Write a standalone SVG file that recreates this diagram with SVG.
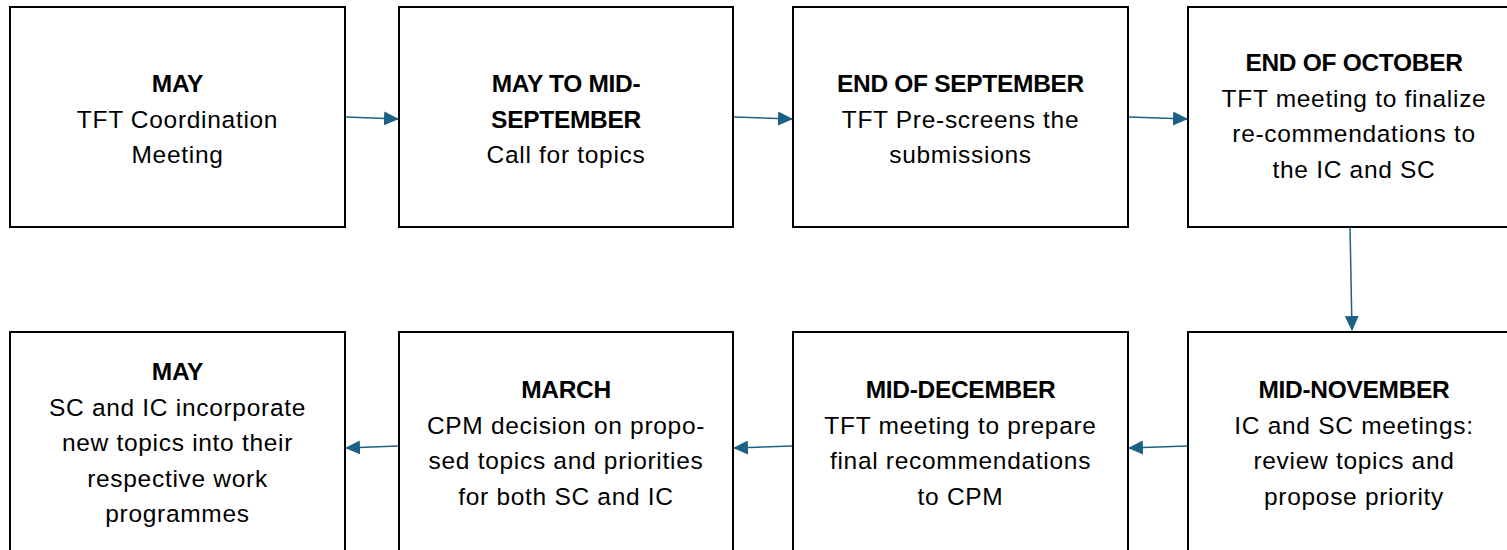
<svg xmlns="http://www.w3.org/2000/svg" width="1507" height="550" viewBox="0 0 1507 550">
<style>
.box{fill:#fff;stroke:#000;stroke-width:2}
.t{font-family:"Liberation Sans",Arial,sans-serif;font-size:24.5px;fill:#000;text-anchor:middle;letter-spacing:0.7px}
.b{font-weight:bold;letter-spacing:-0.3px}
.c{stroke:#1b6185;stroke-width:1.5;fill:none}
</style>
<defs>
<marker id="ah" markerWidth="15" markerHeight="14" refX="14" refY="7" orient="auto" markerUnits="userSpaceOnUse">
<path d="M0,0 L15,7 L0,14 Z" fill="#1b6185"/>
</marker>
</defs>
<rect width="1507" height="550" fill="#fff"/>
<g id="n1"><rect class="box" x="10" y="7" width="335" height="220"/>
<text class="t" x="177.5" y="92"><tspan class="b">MAY</tspan><tspan x="177.5" dy="35.5">TFT Coordination</tspan><tspan x="177.5" dy="35.5">Meeting</tspan></text></g>
<g id="n2"><rect class="box" x="399" y="7" width="334" height="220"/>
<text class="t" x="566" y="92"><tspan class="b">MAY TO MID-</tspan><tspan class="b" x="566" dy="35.5">SEPTEMBER</tspan><tspan x="566" dy="35.5">Call for topics</tspan></text></g>
<g id="n3"><rect class="box" x="793" y="7" width="335" height="220"/>
<text class="t" x="960.5" y="92"><tspan class="b">END OF SEPTEMBER</tspan><tspan x="960.5" dy="35.5">TFT Pre-screens the</tspan><tspan x="960.5" dy="35.5">submissions</tspan></text></g>
<g id="n4"><rect class="box" x="1188" y="7" width="335" height="220"/>
<text class="t" x="1354" y="71"><tspan class="b">END OF OCTOBER</tspan><tspan x="1354" dy="35.5">TFT meeting to finalize</tspan><tspan x="1354" dy="35.5">re-commendations to</tspan><tspan x="1354" dy="35.5">the IC and SC</tspan></text></g>
<g id="n5"><rect class="box" x="1188" y="332" width="335" height="225"/>
<text class="t" x="1354" y="398"><tspan class="b">MID-NOVEMBER</tspan><tspan x="1354" dy="35.5">IC and SC meetings:</tspan><tspan x="1354" dy="35.5">review topics and</tspan><tspan x="1354" dy="35.5">propose priority</tspan></text></g>
<g id="n6"><rect class="box" x="793" y="332" width="335" height="225"/>
<text class="t" x="960.5" y="398"><tspan class="b">MID-DECEMBER</tspan><tspan x="960.5" dy="35.5">TFT meeting to prepare</tspan><tspan x="960.5" dy="35.5">final recommendations</tspan><tspan x="960.5" dy="35.5">to CPM</tspan></text></g>
<g id="n7"><rect class="box" x="399" y="332" width="334" height="225"/>
<text class="t" x="566" y="398"><tspan class="b">MARCH</tspan><tspan x="566" dy="35.5">CPM decision on propo-</tspan><tspan x="566" dy="35.5">sed topics and priorities</tspan><tspan x="566" dy="35.5">for both SC and IC</tspan></text></g>
<g id="n8"><rect class="box" x="10" y="332" width="335" height="225"/>
<text class="t" x="177.5" y="380"><tspan class="b">MAY</tspan><tspan x="177.5" dy="35.5">SC and IC incorporate</tspan><tspan x="177.5" dy="35.5">new topics into their</tspan><tspan x="177.5" dy="35.5">respective work</tspan><tspan x="177.5" dy="35.5">programmes</tspan></text></g>
<g id="connectors">
<line class="c" x1="346" y1="117" x2="398" y2="119" marker-end="url(#ah)"/>
<line class="c" x1="734" y1="117" x2="792" y2="119" marker-end="url(#ah)"/>
<line class="c" x1="1129" y1="117" x2="1187" y2="119" marker-end="url(#ah)"/>
<line class="c" x1="1350" y1="227" x2="1352" y2="330" marker-end="url(#ah)"/>
<line class="c" x1="1187" y1="446" x2="1129" y2="448" marker-end="url(#ah)"/>
<line class="c" x1="792" y1="446" x2="734" y2="448" marker-end="url(#ah)"/>
<line class="c" x1="398" y1="446" x2="346" y2="448" marker-end="url(#ah)"/>
</g>
</svg>
